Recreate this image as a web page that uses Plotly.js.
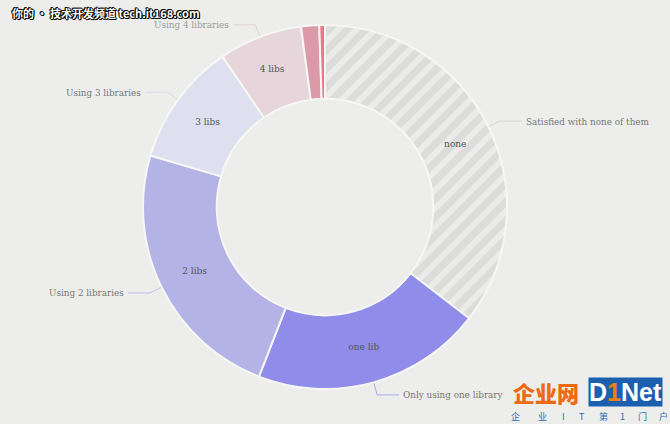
<!DOCTYPE html>
<html>
<head>
<meta charset="utf-8">
<script src="https://cdn.plot.ly/plotly-3.0.1.min.js"></script>
<style>html,body{margin:0;padding:0;background:#edeeeb;}</style>
</head>
<body>
<div id="chart" style="width:670px;height:424px;"></div>
<script>
// ---- data ----
var sliceNames = ['none', 'one lib', '2 libs', '3 libs', '4 libs', '5 libs', '6+ libs'];
var sliceValues = [35.4, 20.4, 23.6, 10.9, 7.4, 1.6, 0.5];
var insideLabels = ['none', 'one lib', '2 libs', '3 libs', '4 libs', '', ''];
var outsideLabels = ['Satisfied with none of them', 'Only using one library', 'Using 2 libraries', 'Using 3 libraries', 'Using 4 libraries', '', ''];
var sliceColors = ['#dcdddb', '#8f8de9', '#b3b3e6', '#dedfef', '#e6d5da', '#dc9aa8', '#e8778a'];
var lineColors = ['#d3d3d1', '#a9a8ee', '#bdbde9', '#d8d8ea', '#e2cfd4', '', ''];
var logoSubChars = ['企', '业', 'I', 'T', '第', '1', '门', '户'];

// ---- layout geometry (pixels) ----
var W = 670, H = 424;
var cx = 325, cy = 207, R = 182;
var FONT = '"DejaVu Serif Condensed", "Liberation Serif", serif';

var trace = {
  type: 'pie',
  labels: sliceNames,
  values: sliceValues,
  text: insideLabels,
  textinfo: 'text',
  textposition: 'inside',
  insidetextorientation: 'horizontal',
  insidetextfont: {family: FONT, size: 10, color: '#555555'},
  sort: false,
  direction: 'clockwise',
  rotation: 0,
  hole: 0.595,
  hoverinfo: 'none',
  showlegend: false,
  marker: {
    colors: sliceColors,
    line: {color: '#f6f6f4', width: 2},
    pattern: {
      shape: ['/', '', '', '', '', '', ''],
      fillmode: 'overlay',
      bgcolor: sliceColors,
      fgcolor: '#ebecea',
      fgopacity: 1,
      size: 13,
      solidity: 0.45
    }
  },
  domain: {
    x: [(cx - R) / W, (cx + R) / W],
    y: [1 - (cy + R) / H, 1 - (cy - R) / H]
  }
};

// ---- outside labels with elbow connectors derived from the values ----
var total = sliceValues.reduce(function (a, b) { return a + b; }, 0);
var shapes = [], annotations = [];
var cum = 0;
function px(x) { return x / W; }
function py(y) { return 1 - y / H; }
for (var i = 0; i < sliceValues.length; i++) {
  var mid = (cum + sliceValues[i] / 2) / total * 2 * Math.PI;
  cum += sliceValues[i];
  if (!outsideLabels[i]) continue;
  var s = Math.sin(mid), c = Math.cos(mid);
  var x0 = cx + (R + 1) * s, y0 = cy - (R + 1) * c;
  var x1 = cx + (R + 13) * s, y1 = cy - (R + 13) * c;
  var side = s >= 0 ? 1 : -1;
  var x2 = x1 + side * 22;
  shapes.push({
    type: 'path', xref: 'paper', yref: 'paper',
    path: 'M' + px(x0) + ',' + py(y0) + ' L' + px(x1) + ',' + py(y1) + ' L' + px(x2) + ',' + py(y1),
    line: {color: lineColors[i], width: 1}
  });
  annotations.push({
    xref: 'paper', yref: 'paper',
    x: px(x2 + side * 2), y: py(y1),
    xanchor: side > 0 ? 'left' : 'right', yanchor: 'middle',
    text: outsideLabels[i], showarrow: false,
    font: {family: FONT, size: 9.8, color: i === 4 ? '#9a9a9a' : '#777777'}
  });
}

// ---- watermark texts ----
annotations.push({
  xref: 'paper', yref: 'paper', x: 10 / W, y: py(13), xanchor: 'left', yanchor: 'middle',
  text: '你的 • 技术开发频道 tech.it168.com', showarrow: false,
  font: {family: '"Noto Sans CJK SC", sans-serif', size: 11, color: '#ffffff', weight: 700,
         shadow: '1px 0 0 #000, -1px 0 0 #000, 0 1px 0 #000, 0 -1px 0 #000, 1px 1px 0 #000, -1px -1px 0 #000'}
});
annotations.push({
  xref: 'paper', yref: 'paper', x: 511 / W, y: py(392), xanchor: 'left', yanchor: 'middle',
  text: '企业网', showarrow: false,
  font: {family: '"Noto Sans CJK SC", sans-serif', size: 22, color: '#ee6a12', weight: 900}
});
annotations.push({
  xref: 'paper', yref: 'paper', x: 588 / W, y: py(392), xanchor: 'left', yanchor: 'middle',
  text: 'D<span style="color:#f07d14">1</span>Net', showarrow: false,
  bgcolor: '#1c5fae', borderpad: 0,
  font: {family: '"Liberation Sans", Arial, sans-serif', size: 25, color: '#ffffff', weight: 700}
});
var subX = [515, 542, 563, 582, 603, 622, 642, 663];
for (var k = 0; k < logoSubChars.length; k++) {
  annotations.push({
    xref: 'paper', yref: 'paper', x: subX[k] / W, y: py(416), xanchor: 'center', yanchor: 'middle',
    text: logoSubChars[k], showarrow: false,
    font: {family: '"Noto Sans CJK SC", sans-serif', size: 9, color: '#2a6db5'}
  });
}

var layout = {
  width: W, height: H,
  margin: {l: 0, r: 0, t: 0, b: 0},
  paper_bgcolor: '#edeeeb',
  plot_bgcolor: '#edeeeb',
  shapes: shapes,
  annotations: annotations
};

Plotly.newPlot('chart', [trace], layout, {displayModeBar: false, staticPlot: true});
</script>
</body>
</html>
